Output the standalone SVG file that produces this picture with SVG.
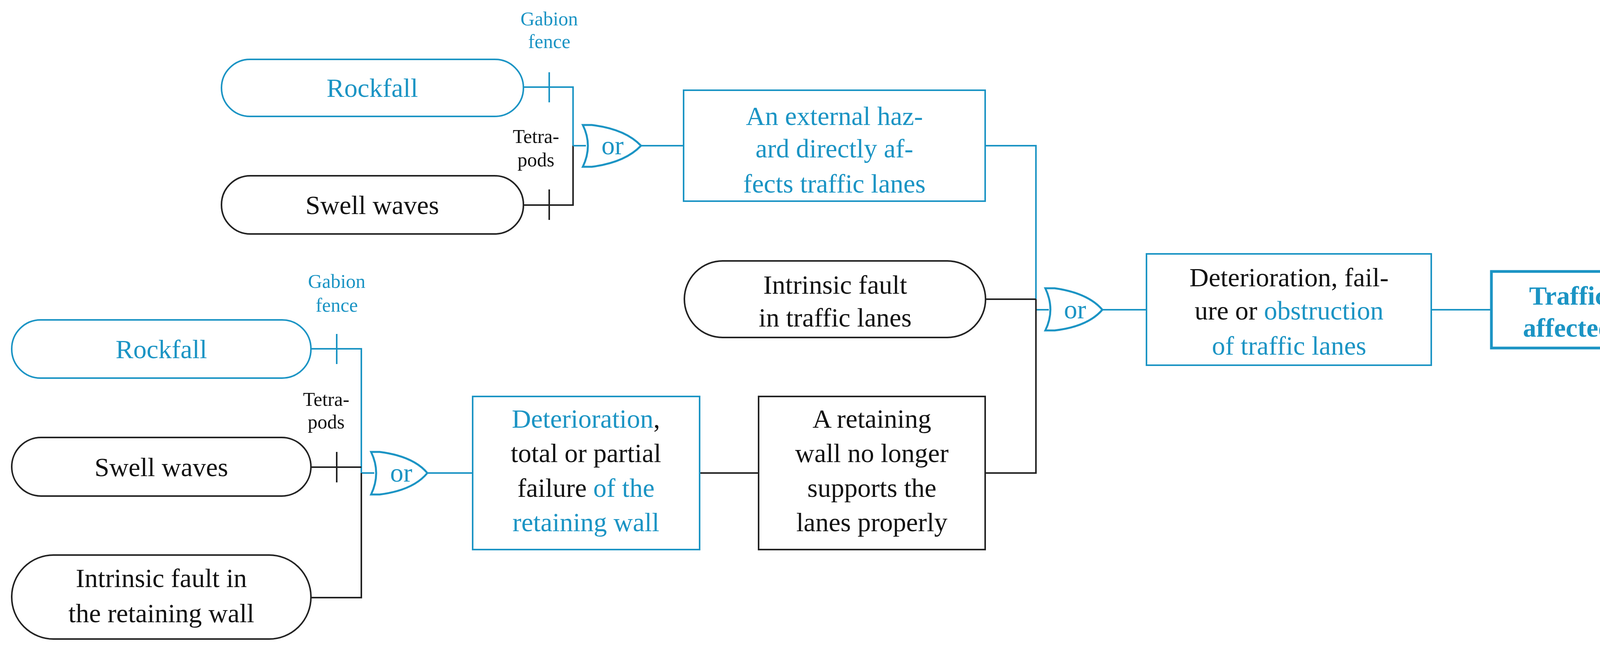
<svg xmlns="http://www.w3.org/2000/svg" width="4230" height="1659" viewBox="0 0 4230 1659">
<style>
text{font-family:"Liberation Serif","DejaVu Serif",serif;text-anchor:middle}
.t{font-size:68px}
.s{font-size:50px}
.b{fill:#1b94c4}
.k{fill:#111}
.nb{fill:#fff;stroke:#1b94c4;stroke-width:4}
.nk{fill:#fff;stroke:#222;stroke-width:4}
.cb{fill:none;stroke:#1b94c4;stroke-width:4}
.ck{fill:none;stroke:#222;stroke-width:4}
.g{fill:#fff;stroke:#1b94c4;stroke-width:5}
</style>
<g id="connectors">
<path class="cb" d="M1340,223 H1467 V373"/>
<path class="ck" d="M1340,525 H1467 V373"/>
<path class="cb" d="M1467,373 H1500 M1641,373 H1750 M2522,373 H2652 V793 M2652,793 H2685 M2822,793 H2935 M3664,793 H3818"/>
<path class="ck" d="M2523,766 H2652 M2522,1211 H2652 V766"/>
<path class="cb" d="M796,893 H925 V1211 M925,1211 H958 M1094,1211 H1210"/>
<path class="ck" d="M796,1196 H925 M796,1530 H925 V1211 M1791,1211 H1942"/>
<path class="ck" d="M1406,485 V563 M862,1157 V1235" />
<path class="cb" d="M1406,185 V262 M862,855 V932"/>
</g>
<g id="label-gabion1"><text class="s b" x="1406" y="65">Gabion</text><text class="s b" x="1406" y="123">fence</text></g>
<g id="label-tetra1"><text class="s k" x="1372" y="366">Tetra-</text><text class="s k" x="1372" y="426">pods</text></g>
<g id="label-gabion2"><text class="s b" x="862" y="737">Gabion</text><text class="s b" x="862" y="798">fence</text></g>
<g id="label-tetra2"><text class="s k" x="835" y="1039">Tetra-</text><text class="s k" x="835" y="1097">pods</text></g>
<g id="rockfall1"><rect class="nb" x="567" y="152" width="773" height="146" rx="73"/><text class="t b" x="953" y="248">Rockfall</text></g>
<g id="swell1"><rect class="nk" x="567" y="450" width="773" height="149" rx="74"/><text class="t k" x="953" y="548">Swell waves</text></g>
<g id="gate1"><path class="g" d="M1492,320 L1515,320 Q1600,330 1641,373 Q1600,416 1515,427 L1492,427 Q1518,373 1492,320 Z"/><text class="t b" x="1568" y="395">or</text></g>
<g id="external"><rect class="nb" x="1750" y="231" width="772" height="284"/><text class="t b" x="2136" y="320">An external haz-</text><text class="t b" x="2136" y="403">ard directly af-</text><text class="t b" x="2136" y="493">fects traffic lanes</text></g>
<g id="intrinsic-lanes"><rect class="nk" x="1752" y="668" width="771" height="196" rx="98"/><text class="t k" x="2138" y="752">Intrinsic fault</text><text class="t k" x="2138" y="836">in traffic lanes</text></g>
<g id="gate2"><path class="g" d="M2676,738 L2700,738 Q2785,750 2822,793 Q2785,836 2700,846 L2676,846 Q2702,793 2676,738 Z"/><text class="t b" x="2752" y="815">or</text></g>
<g id="deterioration-lanes"><rect class="nb" x="2935" y="650" width="729" height="285"/><text class="t k" x="3300" y="733">Deterioration, fail-</text><text class="t" x="3300" y="818"><tspan class="k">ure or </tspan><tspan class="b">obstruction</tspan></text><text class="t b" x="3300" y="908">of traffic lanes</text></g>
<g id="traffic-affected"><rect x="3818" y="695" width="392" height="196" fill="#fff" stroke="#1b94c4" stroke-width="7"/><text class="t b" x="4014" y="780" font-weight="bold">Traffic</text><text class="t b" x="4014" y="862" font-weight="bold">affected</text></g>
<g id="rockfall2"><rect class="nb" x="30" y="819" width="766" height="149" rx="74"/><text class="t b" x="413" y="917">Rockfall</text></g>
<g id="swell2"><rect class="nk" x="30" y="1120" width="766" height="150" rx="75"/><text class="t k" x="413" y="1219">Swell waves</text></g>
<g id="intrinsic-wall"><rect class="nk" x="30" y="1421" width="766" height="215" rx="107"/><text class="t k" x="413" y="1503">Intrinsic fault in</text><text class="t k" x="413" y="1593">the retaining wall</text></g>
<g id="gate3"><path class="g" d="M950,1157 L972,1157 Q1058,1168 1094,1211 Q1058,1255 972,1266 L950,1266 Q976,1211 950,1157 Z"/><text class="t b" x="1027" y="1233">or</text></g>
<g id="deterioration-wall"><rect class="nb" x="1210" y="1015" width="581" height="392"/><text class="t" x="1500" y="1095"><tspan class="b">Deterioration</tspan><tspan class="k">,</tspan></text><text class="t k" x="1500" y="1183">total or partial</text><text class="t" x="1500" y="1272"><tspan class="k">failure </tspan><tspan class="b">of the</tspan></text><text class="t b" x="1500" y="1360">retaining wall</text></g>
<g id="retaining"><rect class="nk" x="1942" y="1015" width="580" height="392"/><text class="t k" x="2232" y="1095">A retaining</text><text class="t k" x="2232" y="1183">wall no longer</text><text class="t k" x="2232" y="1272">supports the</text><text class="t k" x="2232" y="1360">lanes properly</text></g>
</svg>
